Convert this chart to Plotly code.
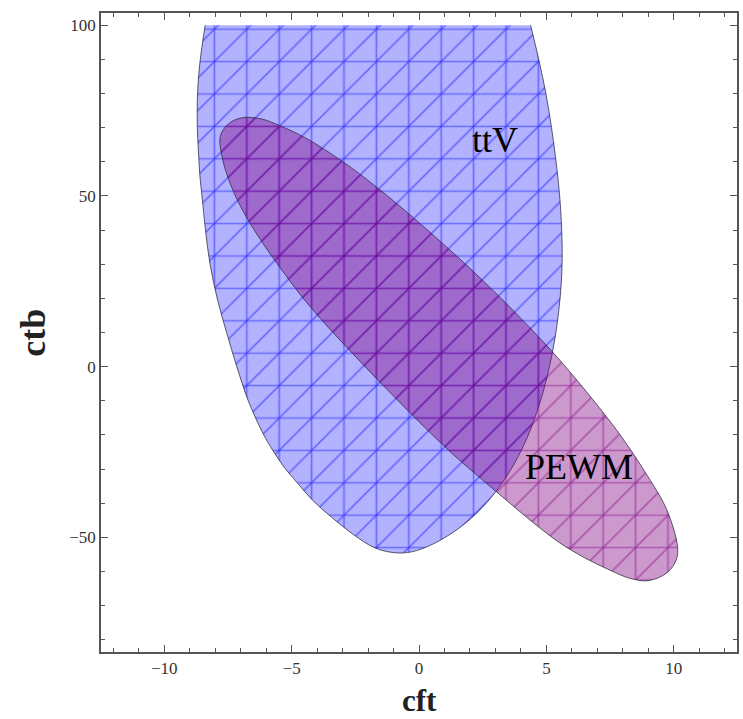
import plotly.graph_objects as go

# ttV allowed region (cft, ctb), clipped at ctb = 100; traced clockwise from the top-right corner
ttv_cft = [4.38, 4.7, 4.98, 5.2, 5.38, 5.52, 5.6, 5.62, 5.58, 5.48, 5.33, 5.12, 4.85, 4.5, 4.05,
           3.45, 2.7, 1.8, 0.8, -0.1, -0.8, -1.7, -2.61, -3.45, -4.17, -4.78, -5.3, -5.74,
           -6.12, -6.7, -7.15, -7.55, -7.9, -8.2, -8.38, -8.5, -8.6, -8.66, -8.7, -8.7,
           -8.65, -8.55, -8.39]
ttv_ctb = [100, 90, 80, 70, 60, 50, 40, 32, 24, 16, 8, 0, -8, -16, -24,
           -32, -39.5, -46, -51, -53.9, -54.6, -53.2, -49, -44, -39.2, -34, -29.4, -24.5,
           -19.6, -10, 0, 10, 19.4, 30, 40, 48.8, 56, 63.5, 70, 78,
           85, 92, 100]

# PEWM allowed region (cft, ctb), traced clockwise
pewm_cft = [0.76, 2.0, 3.1, 4.2, 5.3, 6.2, 6.9, 7.6, 8.27, 8.9, 9.59, 9.95, 10.15, 10.1, 9.75,
            9.0, 8.27, 7.4, 6.5, 5.5, 4.5, 3.0, 1.5, 0.5, -0.5, -1.5, -2.5, -3.5, -4.5,
            -5.5, -6.25, -6.9, -7.35, -7.7, -7.8, -7.5, -6.96, -6.2, -5.47, -4.5, -3.5,
            -2.5, -1.5, -0.5, 0.76]
pewm_ctb = [37.2, 28.8, 20.9, 12.6, 3.8, -4.0, -10.4, -17.0, -24.0, -31.2, -39.8, -46.5, -53, -56.5, -60.3,
            -62.7, -62.0, -59.3, -56.0, -51.5, -45.8, -36.4, -26.8, -19.8, -12.4, -4.8, 3.0, 11.0, 19.6,
            29.5, 37.5, 45.5, 52.5, 60.5, 67.4, 71.0, 72.9, 72.6, 70.6, 67.2, 62.6,
            57.4, 51.6, 45.4, 37.2]

labels = {"ttV": (2.99, 66.3), "PEWM": (6.28, -29.5)}

x_range = [-12.48, 12.48]
y_range = [-83.6, 103.6]

SERIF = "Liberation Serif, Times New Roman, serif"
MESH = 32.4  # mesh cell size in px
SPLINE = dict(shape="spline", smoothing=1.0)


def region(xs, ys, fill_rgba, mesh_rgba):
    traces = []
    # filled region with horizontal/vertical mesh lines
    traces.append(go.Scatter(
        x=xs, y=ys, mode="lines", fill="toself", line=dict(width=0, **SPLINE),
        fillpattern=dict(shape="+", size=MESH, solidity=0.1, bgcolor=fill_rgba,
                         fgcolor=mesh_rgba, fgopacity=1),
        hoverinfo="skip", showlegend=False))
    # diagonal mesh lines
    traces.append(go.Scatter(
        x=xs, y=ys, mode="lines", fill="toself", line=dict(width=0, **SPLINE),
        fillpattern=dict(shape="/", size=MESH / 2 ** 0.5, solidity=0.075, bgcolor="rgba(0,0,0,0)",
                         fgcolor=mesh_rgba, fgopacity=1),
        hoverinfo="skip", showlegend=False))
    # boundary curve
    traces.append(go.Scatter(
        x=xs, y=ys, mode="lines",
        line=dict(width=1, color="rgba(40,40,60,0.75)", **SPLINE),
        hoverinfo="skip", showlegend=False))
    return traces


fig = go.Figure()
for t in region(ttv_cft, ttv_ctb, "rgba(0,0,255,0.3)", "rgba(0,0,255,0.4)"):
    fig.add_trace(t)
for t in region(pewm_cft, pewm_ctb, "rgba(128,0,128,0.4)", "rgba(128,0,128,0.42)"):
    fig.add_trace(t)

for name, (lx, ly) in labels.items():
    fig.add_annotation(x=lx, y=ly, text=name, showarrow=False,
                       font=dict(family=SERIF, size=36, color="black"))

axis_common = dict(
    showgrid=False, zeroline=False, showline=True, linecolor="#555", linewidth=1.5,
    mirror="ticks", ticks="inside", ticklen=7, tickwidth=1.2, tickcolor="#555",
    tickfont=dict(family=SERIF, size=17, color="#333"),
)
fig.update_xaxes(range=x_range, tick0=0, dtick=5,
                 minor=dict(dtick=1, ticks="inside", ticklen=4, tickwidth=1, tickcolor="#555"),
                 **axis_common)
fig.update_yaxes(range=y_range, tick0=0, dtick=50,
                 minor=dict(dtick=10, ticks="inside", ticklen=4, tickwidth=1, tickcolor="#555"),
                 **axis_common)

fig.add_annotation(xref="paper", yref="paper", x=0.5, y=-0.106, text="<b>cft</b>", showarrow=False,
                   font=dict(family=SERIF, size=31, color="#222"), yanchor="bottom")
fig.add_annotation(xref="paper", yref="paper", x=-0.108, y=0.5, text="<b>ctb</b>", showarrow=False,
                   textangle=-90, font=dict(family=SERIF, size=36, color="#222"), xanchor="center")

fig.update_layout(
    width=743, height=719, margin=dict(l=101, r=4, t=13, b=67),
    paper_bgcolor="white", plot_bgcolor="white",
)

fig.write_html("out.html")
